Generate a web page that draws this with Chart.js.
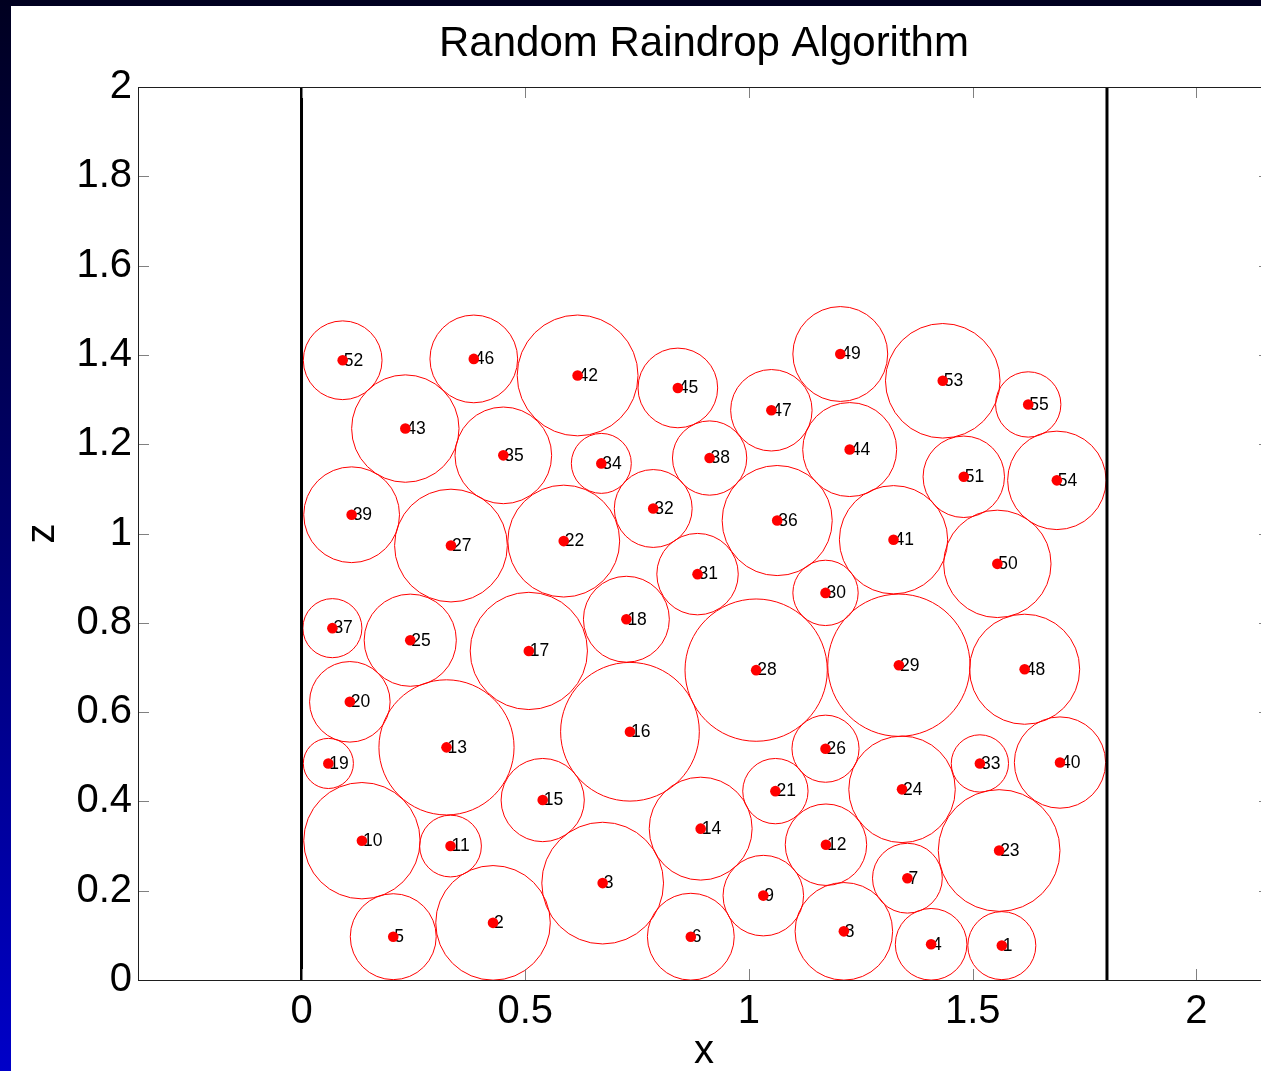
<!DOCTYPE html>
<html>
<head>
<meta charset="utf-8">
<title>Random Raindrop Algorithm</title>
<script src="https://cdn.jsdelivr.net/npm/chart.js@4.4.1/dist/chart.umd.min.js"></script>
<style>
  html, body { margin: 0; padding: 0; width: 1261px; height: 1071px; overflow: hidden; }
  body { position: relative; background: linear-gradient(to bottom, #000020 0%, #00006e 50%, #0000c8 100%); }
  #frame { position: absolute; left: 11px; top: 6px; width: 1275px; height: 1065px; background: #ffffff; }
  canvas { display: block; }
</style>
</head>
<body>
<div id="frame"><canvas id="chart" width="1275" height="1065"></canvas></div>
<script>
// Drop identifiers, centres (x, z) and radii, in insertion order
const dropIds = [1, 2, 3, 4, 5, 6, 7, 8, 9, 10,
                 11, 12, 13, 14, 15, 16, 17, 18, 19, 20,
                 21, 22, 23, 24, 25, 26, 27, 28, 29, 30,
                 31, 32, 33, 34, 35, 36, 37, 38, 39, 40,
                 41, 42, 43, 44, 45, 46, 47, 48, 49, 50,
                 51, 52, 53, 54, 55];
const dropX = [1.565, 0.428, 0.673, 1.407, 0.205, 0.870, 1.354, 1.212, 1.032, 0.135,
               0.333, 1.172, 0.324, 0.892, 0.539, 0.734, 0.508, 0.726, 0.060, 0.108,
               1.059, 0.586, 1.559, 1.342, 0.243, 1.171, 0.334, 1.016, 1.335, 1.171,
               0.885, 0.786, 1.516, 0.670, 0.451, 1.063, 0.069, 0.912, 0.112, 1.695,
               1.323, 0.617, 0.232, 1.225, 0.841, 0.385, 1.050, 1.616, 1.204, 1.555,
               1.480, 0.092, 1.433, 1.688, 1.624];
const dropZ = [0.077, 0.128, 0.217, 0.080, 0.097, 0.097, 0.228, 0.109, 0.189, 0.312,
               0.300, 0.303, 0.521, 0.339, 0.403, 0.556, 0.737, 0.808, 0.485, 0.623,
               0.423, 0.983, 0.290, 0.427, 0.761, 0.518, 0.973, 0.694, 0.705, 0.867,
               0.909, 1.056, 0.485, 1.157, 1.175, 1.029, 0.788, 1.169, 1.042, 0.487,
               0.986, 1.354, 1.235, 1.188, 1.326, 1.391, 1.276, 0.696, 1.402, 0.932,
               1.127, 1.388, 1.342, 1.119, 1.289];
const dropR = [0.076, 0.128, 0.136, 0.080, 0.096, 0.097, 0.078, 0.109, 0.090, 0.130,
               0.069, 0.091, 0.151, 0.115, 0.093, 0.155, 0.131, 0.096, 0.056, 0.090,
               0.073, 0.125, 0.136, 0.119, 0.103, 0.075, 0.126, 0.159, 0.159, 0.073,
               0.091, 0.087, 0.064, 0.067, 0.108, 0.123, 0.066, 0.083, 0.107, 0.102,
               0.121, 0.135, 0.120, 0.105, 0.089, 0.098, 0.091, 0.123, 0.106, 0.120,
               0.091, 0.088, 0.128, 0.110, 0.073];

// Container walls and its height
const wallX = [0, 1.8];
const wallTop = 2;

// Axis limits and tick positions
const xMin = -0.3654;
const xMax = 2.1643;
const zMin = 0;
const zMax = 2;
const xTickValues = [0, 0.5, 1, 1.5, 2];
const zTickValues = [0, 0.2, 0.4, 0.6, 0.8, 1, 1.2, 1.4, 1.6, 1.8, 2];

const FONT = '"Liberation Sans", Arial, Helvetica, sans-serif';
const DOT_INDEX = 2;

const centres = dropX.map((x, i) => ({ x, y: dropZ[i] }));

const wallDatasets = wallX.map(x => ({
  type: 'line',
  data: [{ x, y: 0 }, { x, y: wallTop }],
  showLine: true,
  borderColor: '#000000',
  borderWidth: 3,
  pointRadius: 0,
  fill: false
}));

// Numbers beside each centre, painted just before the red dots
const dropLabels = {
  id: 'dropLabels',
  beforeDatasetDraw(chart, args) {
    if (args.index !== DOT_INDEX) return;
    const ctx = chart.ctx;
    ctx.save();
    ctx.font = '17.5px ' + FONT;
    ctx.fillStyle = '#000000';
    ctx.textAlign = 'left';
    ctx.textBaseline = 'middle';
    args.meta.data.forEach((pt, i) => {
      ctx.fillText(String(dropIds[i]), pt.x + 1, pt.y + 0.5);
    });
    ctx.restore();
  }
};

// Axes box with inward tick marks on all four sides
const axesBox = {
  id: 'axesBox',
  afterDatasetsDraw(chart) {
    const { ctx, chartArea } = chart;
    const { left, right, top, bottom } = chartArea;
    const xs = chart.scales.x;
    const ys = chart.scales.y;
    const len = 11;
    ctx.save();
    ctx.lineWidth = 1;
    ctx.strokeStyle = '#808080';
    ctx.beginPath();
    xTickValues.forEach(v => {
      const px = Math.round(xs.getPixelForValue(v)) + 0.5;
      ctx.moveTo(px, bottom); ctx.lineTo(px, bottom - len);
      ctx.moveTo(px, top); ctx.lineTo(px, top + len);
    });
    zTickValues.forEach(v => {
      const py = Math.round(ys.getPixelForValue(v)) + 0.5;
      ctx.moveTo(left, py); ctx.lineTo(left + len, py);
      ctx.moveTo(right, py); ctx.lineTo(right - len, py);
    });
    ctx.stroke();
    ctx.strokeStyle = '#1e1e1e';
    ctx.strokeRect(Math.round(left) + 0.5, Math.round(top) + 0.5,
                   Math.round(right - left), Math.round(bottom - top));
    ctx.restore();
  }
};

new Chart(document.getElementById('chart'), {
  type: 'scatter',
  data: {
    datasets: [
      ...wallDatasets,
      {
        data: centres,
        pointRadius: 5.3,
        pointBackgroundColor: '#ff0000',
        pointBorderWidth: 0,
        pointBorderColor: '#ff0000'
      },
      {
        data: centres,
        pointRadius: ctx => {
          if (ctx.dataIndex === undefined) return 0;
          const xs = ctx.chart.scales.x;
          return Math.abs(xs.getPixelForValue(dropR[ctx.dataIndex]) - xs.getPixelForValue(0));
        },
        pointBackgroundColor: 'rgba(0,0,0,0)',
        pointBorderColor: '#ff0000',
        pointBorderWidth: 1
      }
    ]
  },
  options: {
    responsive: false,
    animation: false,
    devicePixelRatio: 1,
    events: [],
    layout: { padding: { left: 0, right: 16, top: 0, bottom: 0 } },
    plugins: {
      legend: { display: false },
      tooltip: { enabled: false },
      title: {
        display: true,
        text: 'Random Raindrop Algorithm',
        color: '#000000',
        fullSize: false,
        font: { family: FONT, size: 42, weight: 'normal', lineHeight: 1.2 },
        padding: { top: 13, bottom: 17.6 }
      }
    },
    scales: {
      x: {
        type: 'linear',
        min: xMin,
        max: xMax,
        afterBuildTicks: s => { s.ticks = xTickValues.map(value => ({ value })); },
        afterFit: s => { s.height = 91; },
        grid: { display: false, drawTicks: false },
        border: { display: false },
        ticks: {
          color: '#000000',
          font: { family: FONT, size: 40, lineHeight: 1 },
          padding: 12,
          maxRotation: 0,
          autoSkip: false,
          callback: v => String(v)
        },
        title: {
          display: true,
          text: 'x',
          color: '#000000',
          font: { family: FONT, size: 40, lineHeight: 0.8 },
          padding: { top: 0, bottom: 3 }
        }
      },
      y: {
        type: 'linear',
        min: zMin,
        max: zMax,
        afterBuildTicks: s => { s.ticks = zTickValues.map(value => ({ value })); },
        afterFit: s => { s.width = 127; },
        grid: { display: false, drawTicks: false },
        border: { display: false },
        ticks: {
          color: '#000000',
          font: { family: FONT, size: 40, lineHeight: 1 },
          padding: 6,
          autoSkip: false,
          callback: v => String(Number(v.toFixed(1)))
        },
        title: {
          display: true,
          text: 'z',
          color: '#000000',
          font: { family: FONT, size: 40, lineHeight: 1 },
          padding: { top: 12, bottom: 0 }
        }
      }
    }
  },
  plugins: [dropLabels, axesBox]
});
</script>
</body>
</html>
